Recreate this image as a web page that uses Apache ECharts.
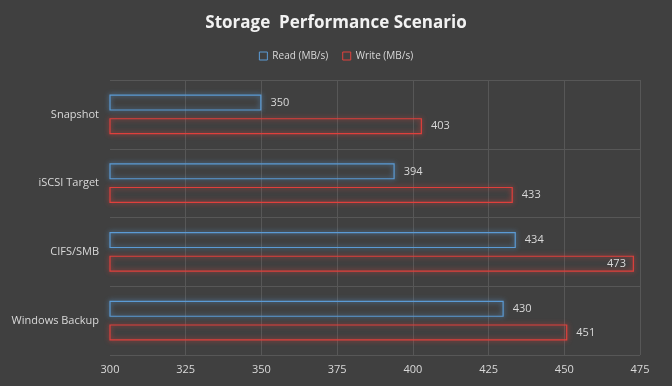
<!DOCTYPE html>
<html>
<head>
<meta charset="utf-8">
<script src="https://cdn.jsdelivr.net/npm/echarts@6/dist/echarts.min.js"></script>
<style>
html,body{margin:0;padding:0;background:#404040;}
#chart{width:672px;height:386px;}
</style>
</head>
<body>
<div id="chart"></div>
<script>
const categories = ['Snapshot', 'iSCSI Target', 'CIFS/SMB', 'Windows Backup'];
const readValues = [350, 394, 434, 430];
const writeValues = [403, 433, 473, 451];
const seriesNames = ['Read (MB/s)', 'Write (MB/s)'];
const xMin = 300, xMax = 475, xStep = 25;

const textColor = '#d9d9d9';
const font = "'Open Sans', 'DejaVu Sans', sans-serif";
const blue = '#5b9bd5';
const red = '#e0403c';

function mkData(vals) {
  return vals.map(v => {
    const d = { value: v };
    if (v > xMax - 12) {
      d.label = { position: 'insideRight', distance: 8 };
    }
    return d;
  });
}

function mkSeries(name, vals, color) {
  return {
    name: name,
    type: 'bar',
    data: mkData(vals),
    barWidth: 16,
    barGap: '47%',
    itemStyle: {
      color: 'rgba(0,0,0,0)',
      borderColor: color,
      borderWidth: 1.2,
      shadowColor: color,
      shadowBlur: 5
    },
    label: {
      show: true,
      position: 'right',
      distance: 9,
      color: textColor,
      fontSize: 11,
      fontFamily: font
    }
  };
}

const chart = echarts.init(document.getElementById('chart'));
chart.setOption({
  backgroundColor: '#404040',
  animation: false,
  title: {
    text: 'Storage  Performance Scenario',
    left: 'center',
    top: 10,
    textStyle: { color: '#f2f2f2', fontSize: 17, fontWeight: 'bold', fontFamily: font }
  },
  legend: {
    top: 46,
    left: 'center',
    itemWidth: 8,
    itemHeight: 8,
    itemGap: 14,
    icon: 'rect',
    textStyle: { color: textColor, fontSize: 10, fontFamily: font },
    data: [
      { name: seriesNames[0], itemStyle: { color: 'rgba(0,0,0,0)', borderColor: blue, borderWidth: 1 } },
      { name: seriesNames[1], itemStyle: { color: 'rgba(0,0,0,0)', borderColor: red, borderWidth: 1 } }
    ]
  },
  grid: { left: 110, right: 32, top: 80, bottom: 31, containLabel: false },
  xAxis: {
    type: 'value',
    min: xMin,
    max: xMax,
    interval: xStep,
    axisLine: { show: false },
    axisTick: { show: false },
    axisLabel: { color: textColor, fontSize: 11, fontFamily: font, margin: 9 },
    splitLine: { show: true, showMinLine: false, lineStyle: { color: '#575757', width: 1 } }
  },
  yAxis: {
    type: 'category',
    data: categories,
    inverse: true,
    axisLine: { show: false },
    axisTick: { show: false },
    axisLabel: { color: textColor, fontSize: 11, fontFamily: font, margin: 11 },
    splitLine: { show: true, lineStyle: { color: '#575757', width: 1 } }
  },
  series: [
    mkSeries(seriesNames[0], readValues, blue),
    mkSeries(seriesNames[1], writeValues, red)
  ]
});
</script>
</body>
</html>
